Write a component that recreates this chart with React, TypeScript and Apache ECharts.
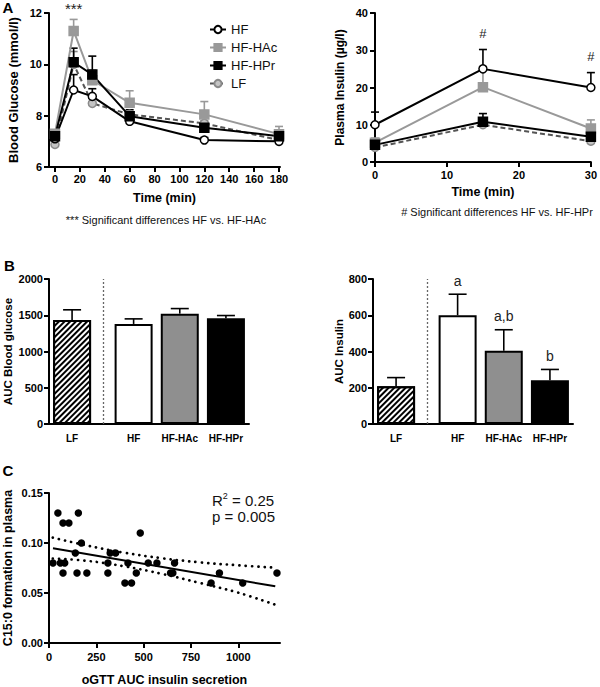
import React, { useEffect, useRef } from 'react';
import * as echarts from 'echarts';

const FF = 'Arial, "Liberation Sans", Helvetica, sans-serif';

// ---------- Panel A (left): blood glucose ----------
const GROUPS = ['HF', 'HF-HAc', 'HF-HPr', 'LF'];
const GLUCOSE_TIME = [0, 15, 30, 60, 120, 180];
const GLUCOSE_XTICKS = [0, 20, 40, 60, 80, 100, 120, 140, 160, 180];
const GLUCOSE_HF = [7.1, 9.0, 8.75, 7.78, 7.05, 7.0];
const GLUCOSE_HF_ERR = [0.15, 0.6, 0.3, 0.12, 0.1, 0.08];
const GLUCOSE_HAC = [7.3, 11.3, 9.38, 8.5, 8.05, 7.28];
const GLUCOSE_HAC_ERR = [0.15, 0.45, 0.4, 0.47, 0.5, 0.3];
const GLUCOSE_HPR = [7.2, 10.08, 9.6, 7.98, 7.53, 7.2];
const GLUCOSE_HPR_ERR = [0.1, 0.55, 0.72, 0.25, 0.15, 0.1];
const GLUCOSE_LF = [6.88, 10.0, 8.48, 8.05, 7.7, 7.05];
const GLUCOSE_LF_ERR = [0.1, 0.5, 0.3, 0.1, 0.1, 0.1];
const GLUCOSE_SIG_HAC = ['', '***', '', '', '', ''];

// ---------- Panel A (right): plasma insulin ----------
const INSULIN_TIME = [0, 15, 30];
const INSULIN_HF = [10.0, 25.0, 20.0];
const INSULIN_HF_ERR = [3.4, 5.2, 4.0];
const INSULIN_HAC = [5.2, 20.1, 9.0];
const INSULIN_HAC_ERR = [1.2, 5.6, 2.3];
const INSULIN_HPR = [4.6, 10.8, 6.8];
const INSULIN_HPR_ERR = [0.8, 2.2, 0.8];
const INSULIN_LF = [3.9, 10.0, 5.6];
const INSULIN_LF_ERR = [0.5, 1.0, 0.5];
const INSULIN_SIG_HF = ['', '#', '#'];

// ---------- Panel B: AUC bars ----------
const AUC_GROUPS = ['LF', 'HF', 'HF-HAc', 'HF-HPr'];
const AUC_GLUCOSE = [1435, 1380, 1522, 1460];
const AUC_GLUCOSE_ERR = [140, 70, 70, 36];
const AUC_INSULIN = [208, 600, 404, 241];
const AUC_INSULIN_ERR = [48, 116, 116, 60];
const AUC_INSULIN_SIG = ['', 'a', 'a,b', 'b'];

// ---------- Panel C: scatter ----------
const C_XTICKS = [0, 250, 500, 750, 1000];
const C_INSULIN = [21, 47, 60, 74, 74, 83, 105, 139, 148, 155, 171, 200, 311, 311, 323, 352, 401, 417, 436, 461, 482, 524, 570, 642, 654, 663, 856, 900, 1023, 1204];
const C_C15 = [0.08, 0.13, 0.08, 0.12, 0.07, 0.08, 0.12, 0.09, 0.07, 0.13, 0.10, 0.07, 0.08, 0.07, 0.09, 0.09, 0.06, 0.08, 0.06, 0.07, 0.11, 0.08, 0.08, 0.07, 0.07, 0.08, 0.06, 0.07, 0.06, 0.07];
const FIT_X = [21, 1195];
const FIT_Y = [0.0948, 0.0567];
const BAND_X = [20, 200, 400, 600, 800, 1000, 1195];
const BAND_UPPER = [0.1054, 0.0975, 0.0902, 0.0847, 0.0806, 0.0777, 0.0753];
const BAND_LOWER = [0.0845, 0.0822, 0.0766, 0.069, 0.0599, 0.0503, 0.0383];

// layout of bar slots (category axis with empty slots)
const SLOT_COUNT = 13;
const SLOT_OF = [1, 5, 8, 11];
const DIVIDER_SLOT = 3;

const STYLE: Record<string, any> = {
  HF: { line: '#000', fill: '#fff', border: '#000', symbol: 'circle', size: 8, dash: 'solid', err: '#000' },
  'HF-HAc': { line: '#999', fill: '#999', border: '#999', symbol: 'rect', size: 9, dash: 'solid', err: '#999' },
  'HF-HPr': { line: '#000', fill: '#000', border: '#000', symbol: 'rect', size: 9, dash: 'solid', err: '#000' },
  LF: { line: '#555', fill: '#c4c4c4', border: '#8a8a8a', symbol: 'circle', size: 8, dash: [5, 3], err: '#888' },
};

const plain = (v: number) => String(v);

function lineSeries(name: string, xi: number, xs: number[], ys: number[]) {
  const s = STYLE[name];
  return {
    type: 'line',
    name,
    xAxisIndex: xi,
    yAxisIndex: xi,
    data: xs.map((x, i) => [x, ys[i]]),
    symbol: s.symbol,
    symbolSize: s.size,
    showSymbol: true,
    clip: false,
    z: 3,
    lineStyle: { color: s.line, width: 2, type: s.dash },
    itemStyle: { color: s.fill, borderColor: s.border, borderWidth: 1.5 },
  };
}

function errSeries(
  id: string,
  xi: number,
  xs: number[],
  means: number[],
  errs: number[],
  color: string,
  capHalf: number,
  labels?: string[],
  labelOffset = 14,
  labelSize = 14
) {
  return {
    type: 'custom',
    name: id,
    xAxisIndex: xi,
    yAxisIndex: xi,
    z: 2,
    silent: true,
    clip: false,
    data: xs.map((x, i) => [x, means[i], means[i] + errs[i], i]),
    renderItem: (_p: any, api: any) => {
      const p0 = api.coord([api.value(0), api.value(1)]);
      const p1 = api.coord([api.value(0), api.value(2)]);
      const idx = api.value(3);
      const children: any[] = [
        { type: 'line', shape: { x1: p0[0], y1: p0[1], x2: p1[0], y2: p1[1] }, style: { stroke: color, lineWidth: 1.6 } },
        { type: 'line', shape: { x1: p1[0] - capHalf, y1: p1[1], x2: p1[0] + capHalf, y2: p1[1] }, style: { stroke: color, lineWidth: 1.6 } },
      ];
      if (labels && labels[idx]) {
        children.push({
          type: 'text',
          x: p1[0],
          y: p1[1] - labelOffset,
          style: { text: labels[idx], fill: '#222', fontSize: labelSize, fontFamily: FF, align: 'center', verticalAlign: 'middle' },
        });
      }
      return { type: 'group', children };
    },
  };
}

const axisCommon = {
  axisLine: { show: true, onZero: false, lineStyle: { color: '#000', width: 2 } },
  axisTick: { show: true, length: 5, lineStyle: { color: '#000', width: 2 } },
  axisLabel: { color: '#000', fontSize: 11, fontWeight: 'bold', fontFamily: FF },
  splitLine: { show: false },
  nameTextStyle: { color: '#000', fontSize: 12.5, fontWeight: 'bold', fontFamily: FF },
};

function slotCats(names: string[]) {
  const cats: string[] = new Array(SLOT_COUNT).fill('');
  names.forEach((n, i) => (cats[SLOT_OF[i]] = n));
  return cats;
}

const BAR_STYLE = [
  {
    color: '#fff',
    decal: { symbol: 'rect', symbolSize: 1, color: '#000', dashArrayX: [1, 0], dashArrayY: [1.6, 1.6], rotation: -Math.PI / 4 },
  },
  { color: '#fff' },
  { color: '#8f8f8f' },
  { color: '#000' },
];

function barData(values: number[]) {
  const arr: any[] = new Array(SLOT_COUNT).fill('-');
  values.forEach((v, i) => {
    arr[SLOT_OF[i]] = { value: v, itemStyle: { ...BAR_STYLE[i], borderColor: '#000', borderWidth: 2 } };
  });
  return arr;
}

function barSeries(xi: number, values: number[]) {
  return {
    type: 'bar',
    name: 'auc' + xi,
    xAxisIndex: xi,
    yAxisIndex: xi,
    barWidth: 38,
    z: 1,
    data: barData(values),
    markLine: {
      silent: true,
      symbol: 'none',
      label: { show: false },
      lineStyle: { color: '#666', width: 1.3, type: [2, 2] },
      data: [{ xAxis: DIVIDER_SLOT }],
    },
  };
}

function buildOption() {
  const slotX = AUC_GROUPS.map((_, i) => SLOT_OF[i]);
  return {
    animation: false,
    backgroundColor: '#fff',
    textStyle: { fontFamily: FF },
    legend: {
      data: GROUPS,
      orient: 'vertical',
      left: 204,
      top: 18,
      itemWidth: 16,
      itemHeight: 9,
      itemGap: 5,
      selectedMode: false,
      textStyle: { fontSize: 13, fontFamily: FF, color: '#111', lineHeight: 13 },
    },
    grid: [
      { left: 49, top: 13, width: 231, height: 154 },
      { left: 375, top: 13, width: 216, height: 149 },
      { left: 49, top: 279, width: 200, height: 145 },
      { left: 373, top: 279, width: 200, height: 145 },
      { left: 49, top: 493, width: 231, height: 152 },
    ],
    xAxis: [
      {
        ...axisCommon,
        gridIndex: 0,
        type: 'value',
        min: -4.8,
        max: 180.8,
        axisTick: { ...axisCommon.axisTick, customValues: GLUCOSE_XTICKS },
        axisLabel: { ...axisCommon.axisLabel, customValues: GLUCOSE_XTICKS, margin: 6, formatter: plain },
        name: 'Time (min)',
        nameLocation: 'middle',
        nameGap: 24,
      },
      {
        ...axisCommon,
        gridIndex: 1,
        type: 'value',
        min: 0,
        max: 30,
        interval: 10,
        axisLabel: { ...axisCommon.axisLabel, margin: 7, formatter: plain },
        name: 'Time (min)',
        nameLocation: 'middle',
        nameGap: 23,
      },
      {
        ...axisCommon,
        gridIndex: 2,
        type: 'category',
        data: slotCats(AUC_GROUPS),
        axisTick: { show: false },
        axisLabel: { ...axisCommon.axisLabel, fontSize: 10, interval: 0, margin: 9 },
      },
      {
        ...axisCommon,
        gridIndex: 3,
        type: 'category',
        data: slotCats(AUC_GROUPS),
        axisTick: { show: false },
        axisLabel: { ...axisCommon.axisLabel, fontSize: 10, interval: 0, margin: 9 },
      },
      {
        ...axisCommon,
        gridIndex: 4,
        type: 'value',
        min: 0,
        max: 1220,
        axisTick: { ...axisCommon.axisTick, customValues: C_XTICKS },
        axisLabel: { ...axisCommon.axisLabel, customValues: C_XTICKS, margin: 8, formatter: plain },
        name: 'oGTT AUC insulin secretion',
        nameLocation: 'middle',
        nameGap: 30,
      },
    ],
    yAxis: [
      {
        ...axisCommon,
        gridIndex: 0,
        type: 'value',
        min: 6,
        max: 12,
        interval: 2,
        axisLabel: { ...axisCommon.axisLabel, margin: 7, formatter: plain },
        name: 'Blood Glucose (mmol/l)',
        nameLocation: 'middle',
        nameGap: 29,
        nameTextStyle: { ...axisCommon.nameTextStyle, fontSize: 13 },
      },
      {
        ...axisCommon,
        gridIndex: 1,
        type: 'value',
        min: 0,
        max: 40,
        interval: 10,
        axisLabel: { ...axisCommon.axisLabel, margin: 7, formatter: plain },
        name: 'Plasma Insulin (µg/l)',
        nameLocation: 'middle',
        nameGap: 29,
        nameTextStyle: { ...axisCommon.nameTextStyle, fontSize: 12 },
      },
      {
        ...axisCommon,
        gridIndex: 2,
        type: 'value',
        min: 0,
        max: 2000,
        interval: 500,
        axisLabel: { ...axisCommon.axisLabel, margin: 6, formatter: plain },
        name: 'AUC Blood glucose',
        nameLocation: 'middle',
        nameGap: 35,
        nameTextStyle: { ...axisCommon.nameTextStyle, fontSize: 11.5 },
      },
      {
        ...axisCommon,
        gridIndex: 3,
        type: 'value',
        min: 0,
        max: 800,
        interval: 200,
        axisLabel: { ...axisCommon.axisLabel, margin: 6, formatter: plain },
        name: 'AUC Insulin',
        nameLocation: 'middle',
        nameGap: 28,
        nameTextStyle: { ...axisCommon.nameTextStyle, fontSize: 11.5 },
      },
      {
        ...axisCommon,
        gridIndex: 4,
        type: 'value',
        min: 0,
        max: 0.15,
        interval: 0.05,
        axisLabel: { ...axisCommon.axisLabel, margin: 6, formatter: (v: number) => v.toFixed(2) },
        name: 'C15:0 formation in plasma',
        nameLocation: 'middle',
        nameGap: 35,
      },
    ],
    series: [
      // A left
      errSeries('eLF', 0, GLUCOSE_TIME, GLUCOSE_LF, GLUCOSE_LF_ERR, STYLE.LF.err, 4),
      errSeries('eHAc', 0, GLUCOSE_TIME, GLUCOSE_HAC, GLUCOSE_HAC_ERR, STYLE['HF-HAc'].err, 4, GLUCOSE_SIG_HAC, 11, 15),
      errSeries('eHF', 0, GLUCOSE_TIME, GLUCOSE_HF, GLUCOSE_HF_ERR, STYLE.HF.err, 4),
      errSeries('eHPr', 0, GLUCOSE_TIME, GLUCOSE_HPR, GLUCOSE_HPR_ERR, STYLE['HF-HPr'].err, 4),
      lineSeries('LF', 0, GLUCOSE_TIME, GLUCOSE_LF),
      lineSeries('HF-HAc', 0, GLUCOSE_TIME, GLUCOSE_HAC),
      lineSeries('HF', 0, GLUCOSE_TIME, GLUCOSE_HF),
      lineSeries('HF-HPr', 0, GLUCOSE_TIME, GLUCOSE_HPR),
      // A right
      errSeries('iLF', 1, INSULIN_TIME, INSULIN_LF, INSULIN_LF_ERR, STYLE.LF.err, 4),
      errSeries('iHAc', 1, INSULIN_TIME, INSULIN_HAC, INSULIN_HAC_ERR, STYLE['HF-HAc'].err, 4),
      errSeries('iHF', 1, INSULIN_TIME, INSULIN_HF, INSULIN_HF_ERR, STYLE.HF.err, 4, INSULIN_SIG_HF, 16, 13),
      errSeries('iHPr', 1, INSULIN_TIME, INSULIN_HPR, INSULIN_HPR_ERR, STYLE['HF-HPr'].err, 4),
      lineSeries('LF', 1, INSULIN_TIME, INSULIN_LF),
      lineSeries('HF-HAc', 1, INSULIN_TIME, INSULIN_HAC),
      lineSeries('HF', 1, INSULIN_TIME, INSULIN_HF),
      lineSeries('HF-HPr', 1, INSULIN_TIME, INSULIN_HPR),
      // B left
      barSeries(2, AUC_GLUCOSE),
      errSeries('bG', 2, slotX, AUC_GLUCOSE, AUC_GLUCOSE_ERR, '#000', 9),
      // B right
      barSeries(3, AUC_INSULIN),
      errSeries('bI', 3, slotX, AUC_INSULIN, AUC_INSULIN_ERR, '#000', 9, AUC_INSULIN_SIG, 13.5, 14),
      // C
      {
        type: 'line',
        name: 'upper95',
        xAxisIndex: 4,
        yAxisIndex: 4,
        data: BAND_X.map((x, i) => [x, BAND_UPPER[i]]),
        smooth: 0.4,
        showSymbol: false,
        lineStyle: { color: '#000', width: 2.7, type: [0.1, 6.2], cap: 'round' },
      },
      {
        type: 'line',
        name: 'lower95',
        xAxisIndex: 4,
        yAxisIndex: 4,
        data: BAND_X.map((x, i) => [x, BAND_LOWER[i]]),
        smooth: 0.4,
        showSymbol: false,
        lineStyle: { color: '#000', width: 2.7, type: [0.1, 6.2], cap: 'round' },
      },
      {
        type: 'line',
        name: 'fit',
        xAxisIndex: 4,
        yAxisIndex: 4,
        data: FIT_X.map((x, i) => [x, FIT_Y[i]]),
        showSymbol: false,
        lineStyle: { color: '#000', width: 2 },
      },
      {
        type: 'scatter',
        name: 'c15',
        xAxisIndex: 4,
        yAxisIndex: 4,
        data: C_INSULIN.map((x, i) => [x, C_C15[i]]),
        symbol: 'circle',
        symbolSize: 7.5,
        itemStyle: { color: '#000', opacity: 1 },
        z: 4,
      },
    ],
    graphic: [
      { type: 'text', x: 8, y: 7, style: { text: 'A', fontSize: 15, fontWeight: 'bold', fontFamily: FF, fill: '#000', align: 'center', verticalAlign: 'middle' } },
      { type: 'text', x: 9.5, y: 265.5, style: { text: 'B', fontSize: 15, fontWeight: 'bold', fontFamily: FF, fill: '#000', align: 'center', verticalAlign: 'middle' } },
      { type: 'text', x: 8, y: 470, style: { text: 'C', fontSize: 15, fontWeight: 'bold', fontFamily: FF, fill: '#000', align: 'center', verticalAlign: 'middle' } },
      { type: 'text', x: 166, y: 220, style: { text: '*** Significant differences HF vs. HF-HAc', fontSize: 11, fontFamily: FF, fill: '#111', align: 'center', verticalAlign: 'middle' } },
      { type: 'text', x: 497, y: 212, style: { text: '# Significant differences HF vs. HF-HPr', fontSize: 11, fontFamily: FF, fill: '#111', align: 'center', verticalAlign: 'middle' } },
      {
        type: 'text',
        x: 212,
        y: 500,
        style: {
          text: '{a|R}{s|2}{a| = 0.25}',
          fontFamily: FF,
          fill: '#111',
          verticalAlign: 'middle',
          rich: {
            a: { fontSize: 15, fontFamily: FF, fill: '#111' },
            s: { fontSize: 9, fontFamily: FF, fill: '#111', verticalAlign: 'top', padding: [0, 0, 8, 0] },
          },
        },
      },
      { type: 'text', x: 212, y: 516, style: { text: 'p = 0.005', fontSize: 15, fontFamily: FF, fill: '#111', verticalAlign: 'middle' } },
    ],
  };
}

export default function App() {
  const ref = useRef<HTMLDivElement>(null);
  useEffect(() => {
    if (!ref.current) return;
    const chart = echarts.init(ref.current, undefined, { renderer: 'svg' });
    chart.setOption(buildOption() as any);
    return () => chart.dispose();
  }, []);
  return <div ref={ref} style={{ position: 'absolute', left: 0, top: 0, width: 600, height: 687, background: '#fff' }} />;
}
